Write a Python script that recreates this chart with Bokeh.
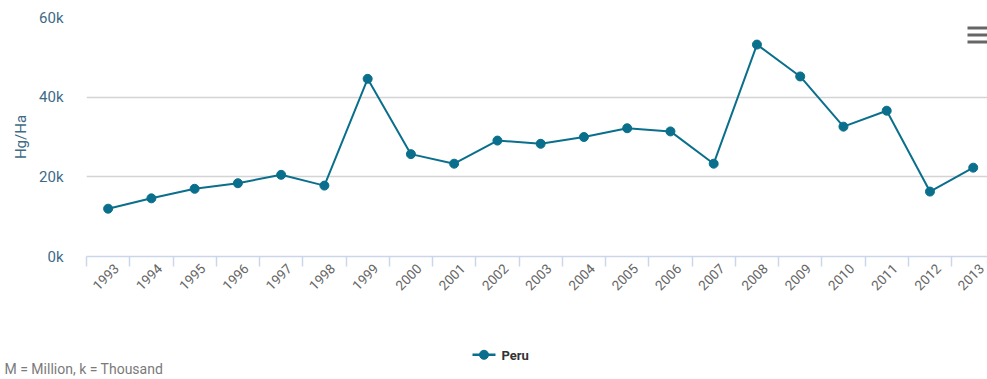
from bokeh.plotting import figure
from bokeh.layouts import column
from bokeh.models import (FixedTicker, CustomJSTickFormatter, Range1d,
                          BoxAnnotation, ColumnDataSource)
from bokeh.core.properties import value
from bokeh.embed import file_html
from bokeh.resources import INLINE
import math

# Yield of Peru, hectograms per hectare
years = ["1993", "1994", "1995", "1996", "1997", "1998", "1999", "2000", "2001",
         "2002", "2003", "2004", "2005", "2006", "2007", "2008", "2009", "2010",
         "2011", "2012", "2013"]
values = [12000, 14600, 17000, 18400, 20500, 17800, 44600, 25700, 23300, 29100,
          28300, 30000, 32200, 31400, 23300, 53200, 45200, 32600, 36600, 16300,
          22300]
y_ticks = [0, 20000, 40000, 60000]
series_name = "Peru"
unit_label = "Hg/Ha"
footnote = "M = Million, k = Thousand"

LINE_COLOR = "#0a6f8c"
FONT = "Roboto"
LABEL_SHIFT = 0.2   # rotated year labels sit a little right of the category centre
W = 987

idx = list(range(len(years)))
src = ColumnDataSource(dict(x=idx, y=values))

p = figure(width=W, height=300, output_backend="svg", toolbar_location=None,
           x_range=Range1d(-0.5, 20.33), y_range=Range1d(0, 60000),
           min_border_left=86, min_border_right=0, min_border_top=17,
           min_border_bottom=44)
p.frame_align = False
p.outline_line_color = None
p.background_fill_color = "white"
p.border_fill_color = "white"

# category axis: year labels near centres, tick marks on category boundaries
xa = p.xaxis[0]
xa.ticker = FixedTicker(ticks=[i + LABEL_SHIFT for i in idx],
                        minor_ticks=[i - 0.5 for i in idx] + [len(idx) - 0.5])
xa.formatter = CustomJSTickFormatter(args=dict(labels=years),
                                     code="return labels[Math.round(tick)] || ''")
xa.major_label_orientation = math.pi / 4
xa.major_label_text_font = FONT
xa.major_label_text_font_size = "13.5px"
xa.major_label_text_color = "#666666"
xa.major_label_standoff = 0
xa.major_tick_in = 0
xa.major_tick_out = 0
xa.minor_tick_in = 0
xa.minor_tick_out = 10
xa.minor_tick_line_color = "#ccd6eb"
xa.minor_tick_line_width = 1.5
xa.axis_line_color = "#ccd6eb"
xa.axis_line_width = 1.5

ya = p.yaxis[0]
ya.ticker = FixedTicker(ticks=y_ticks)
ya.formatter = CustomJSTickFormatter(code="return (tick / 1000) + 'k'")
ya.major_label_text_font = FONT
ya.major_label_text_font_size = "15px"
ya.major_label_text_color = "#3e6a86"
ya.major_label_standoff = 17
ya.axis_line_color = None
ya.major_tick_line_color = None
ya.minor_tick_line_color = None
ya.axis_label = unit_label
ya.axis_label_text_font = FONT
ya.axis_label_text_font_style = "normal"
ya.axis_label_text_font_size = "15px"
ya.axis_label_text_color = "#3e6a86"
ya.axis_label_standoff = 6

p.xgrid.grid_line_color = None
p.ygrid.grid_line_color = "#d4d4d4"
p.ygrid.grid_line_width = 1.5

p.line("x", "y", source=src, line_color=LINE_COLOR, line_width=2)
p.scatter("x", "y", source=src, size=9, fill_color=LINE_COLOR,
          line_color=LINE_COLOR)

# export-menu glyph in the top right corner
for top in (26, 33, 40):
    p.add_layout(BoxAnnotation(left=967, right=987, top=top, bottom=top + 3,
                               left_units="canvas", right_units="canvas",
                               top_units="canvas", bottom_units="canvas",
                               fill_color="#666666", fill_alpha=1,
                               line_color=None, level="overlay"))

# strip underneath: legend and unit footnote, laid out in pixel coordinates
FOOT_H = 79
foot = figure(width=W, height=FOOT_H, output_backend="svg", toolbar_location=None,
              x_range=Range1d(0, W), y_range=Range1d(FOOT_H, 0),
              x_axis_type=None, y_axis_type=None, min_border=0)
foot.frame_align = False
foot.outline_line_color = None
foot.grid.visible = False
foot.background_fill_color = "white"
foot.border_fill_color = "white"

LEG_Y = 54.3
foot.segment(x0=[472], y0=[LEG_Y], x1=[495], y1=[LEG_Y], line_color=LINE_COLOR,
             line_width=2.5)
foot.scatter(x=[483.5], y=[LEG_Y], size=9, fill_color=LINE_COLOR,
             line_color=LINE_COLOR)
foot.text(x=[501], y=[LEG_Y + 0.5], text=[series_name], text_baseline="middle",
          text_font=value(FONT), text_font_style="bold", text_font_size="13px",
          text_color="#333333")
foot.text(x=[4], y=[FOOT_H - 3], text=[footnote], text_baseline="bottom",
          text_font=value(FONT), text_font_size="14px", text_color="#7a7a7a")

layout = column(p, foot, spacing=0)
open("out.html", "w").write(file_html(layout, INLINE))
